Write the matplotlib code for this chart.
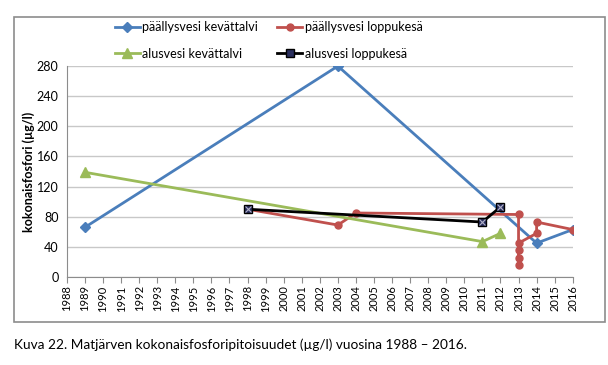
import matplotlib
matplotlib.use("Agg")
import matplotlib.pyplot as plt
from matplotlib.patches import Rectangle

plt.rcParams['font.family'] = ['Lato', 'DejaVu Sans']

# päällysvesi kevättalvi
pk_years = [1989, 2003, 2014, 2016]
pk_vals = [66, 280, 45, 63]

# päällysvesi loppukesä
pl_years = [1998, 2003, 2004, 2013, 2013, 2013, 2013, 2013, 2014, 2014, 2016]
pl_vals = [90, 69, 85, 83, 16, 25, 36, 45, 58, 73, 63]

# alusvesi kevättalvi
ak_years = [1989, 2011, 2012]
ak_vals = [139, 47, 58]

# alusvesi loppukesä
al_years = [1998, 2011, 2012]
al_vals = [90, 73, 93]

years = list(range(1988, 2017))
yticks = [0, 40, 80, 120, 160, 200, 240, 280]

fig = plt.figure(figsize=(6.08, 3.65), dpi=100)
fig.patches.append(Rectangle((0.023, 0.118), 0.972, 0.836, transform=fig.transFigure,
                             fill=False, edgecolor='#8c8c8c', lw=1.2))

ax = fig.add_axes([0.110, 0.241, 0.832, 0.578])

l1, = ax.plot(pk_years, pk_vals, color='#4A7EBB', lw=2, marker='D', ms=5,
              label='päällysvesi kevättalvi')
l2, = ax.plot(pl_years, pl_vals, color='#C0504D', lw=2, marker='o', ms=5,
              label='päällysvesi loppukesä')
l3, = ax.plot(ak_years, ak_vals, color='#9BBB59', lw=2, marker='^', ms=7,
              label='alusvesi kevättalvi')
l4, = ax.plot(al_years, al_vals, color='black', lw=2, marker='s', ms=6,
              markerfacecolor='#2A2F5E', markeredgecolor='black',
              label='alusvesi loppukesä')
ax.plot(al_years, al_vals, ls='none', marker='x', ms=4, color='#b0b0c8', mew=0.8)

ax.set_xlim(1988, 2016)
ax.set_ylim(0, 280)
ax.set_xticks(years)
ax.set_xticklabels([str(y) for y in years], rotation=90, fontsize=8)
ax.set_yticks(yticks)
ax.tick_params(axis='y', length=0, labelsize=9, pad=6)
ax.tick_params(axis='x', length=4, color='#8c8c8c', direction='out', pad=2)
ax.grid(axis='y', color='#c8c8c8', lw=1)
ax.set_axisbelow(True)
for s in ['top', 'right']:
    ax.spines[s].set_visible(False)
ax.spines['left'].set_color('#8c8c8c')
ax.spines['bottom'].set_color('#8c8c8c')
ax.set_ylabel('kokonaisfosfori (µg/l)', fontsize=9, fontweight='bold', labelpad=1)

fig.legend(handles=[l1, l3, l2, l4], ncol=2, loc='center', bbox_to_anchor=(0.442, 0.889),
           frameon=False, fontsize=9, handlelength=2.0, handletextpad=0.2,
           columnspacing=1.5, labelspacing=1.15)

fig.text(0.023, 0.055, 'Kuva 22. Matjärven kokonaisfosforipitoisuudet (µg/l) vuosina 1988 – 2016.',
         fontsize=9.8, va='center', ha='left')

fig.savefig('out.png', dpi=100)
